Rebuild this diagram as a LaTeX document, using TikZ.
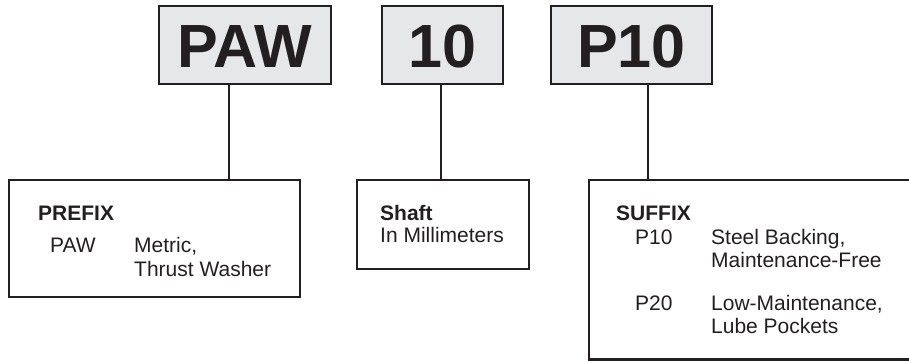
\documentclass[tikz,border=0pt]{standalone}
\usepackage{fontspec}
\setmainfont{Liberation Sans}
\usetikzlibrary{positioning}
\definecolor{ink}{HTML}{231F20}
\definecolor{codefill}{HTML}{E6E7E8}

\begin{document}
\begin{tikzpicture}[x=1pt,y=-1pt,
  codebox/.style={draw=ink,fill=codefill,line width=2.3pt,inner sep=0pt,text=ink,
    font=\fontsize{61}{61}\selectfont\bfseries,text height=44pt,text depth=0pt,minimum height=78pt},
  infobox/.style={draw=ink,line width=2.2pt,inner sep=0pt},
  txt/.style={text=ink,inner sep=0pt,anchor=base west,font=\fontsize{21}{24}\selectfont},
  head/.style={txt,font=\fontsize{21}{24}\selectfont\bfseries},
  stem/.style={draw=ink,line width=1.9pt}]
\useasboundingbox (0,0) rectangle (909,360);

% code boxes on top
\node[codebox,minimum width=172pt] (paw) at (245,45) {PAW};
\node[codebox,minimum width=121pt] (shaftno) at (442.8,45) {10};
\node[codebox,minimum width=161pt] (sfx) at (631.3,45) {P10};

% explanation boxes
\node[infobox,minimum width=291pt,minimum height=117pt] (prefix) at (154.5,238.5) {};
\node[infobox,minimum width=172pt,minimum height=89pt] (shaft) at (443,224.5) {};
\node[infobox,minimum width=341pt,minimum height=179.5pt] (suffix) at (759.5,269.75) {};

% stems
\coordinate (s1) at (228.7,0);
\coordinate (s2) at (441.3,0);
\coordinate (s3) at (647.7,0);
\draw[stem] (paw.south -| s1) -- (prefix.north -| s1);
\draw[stem] (shaftno.south -| s2) -- (shaft.north -| s2);
\draw[stem] (sfx.south -| s3) -- (suffix.north -| s3);

% prefix text
\node[head] (prefixhead) at (38,220) {PREFIX};
\node[txt] (pawcode) at (50,252) {PAW};
\node[txt] (pawa) at (134,252) {Metric,};
\node[txt] (pawb) at (134,276) {Thrust Washer};

% shaft text
\node[head] (shafthead) at (380,220) {Shaft};
\node[txt] (shafta) at (380,242) {In Millimeters};

% suffix text
\node[head] (suffixhead) at (616,220) {SUFFIX};
\node[txt] (pten) at (635,244) {P10};
\node[txt] (ptena) at (711,244) {Steel Backing,};
\node[txt] (ptenb) at (711,267) {Maintenance-Free};
\node[txt] (ptwenty) at (635,310) {P20};
\node[txt] (ptwentya) at (711,310) {Low-Maintenance,};
\node[txt] (ptwentyb) at (711,333) {Lube Pockets};

\end{tikzpicture}
\end{document}
